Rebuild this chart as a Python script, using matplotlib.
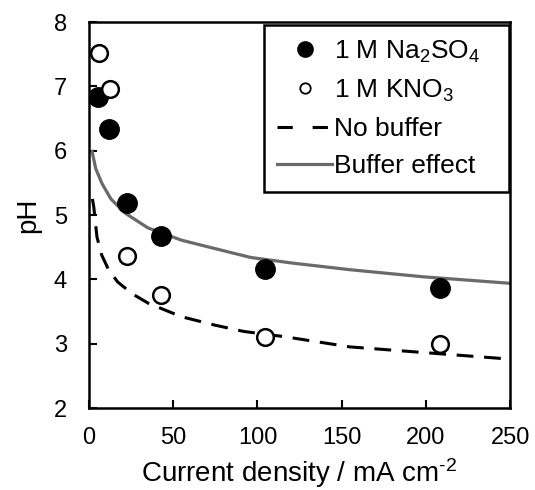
import matplotlib
matplotlib.use("Agg")
import matplotlib.pyplot as plt
from matplotlib.lines import Line2D

plt.rcParams['font.family'] = ['Liberation Sans', 'DejaVu Sans']
plt.rcParams['mathtext.fontset'] = 'custom'
plt.rcParams['mathtext.rm'] = 'Liberation Sans'
plt.rcParams['mathtext.it'] = 'Liberation Sans:italic'
plt.rcParams['mathtext.default'] = 'regular'

# Data
na2so4_x = [5.3, 12.0, 22.4, 43.0, 104.5, 208.5]
na2so4_y = [6.83, 6.34, 5.18, 4.67, 4.16, 3.87]
kno3_x = [5.7, 12.6, 22.4, 43.0, 104.5, 208.5]
kno3_y = [7.52, 6.96, 4.37, 3.75, 3.11, 3.00]
nobuf_x = [2.0, 2.8, 4.7, 7.5, 11.6, 17.0, 25.4, 35.1, 54.8, 74.5, 92.0, 115.8, 155.0, 190.0, 220.0, 250.0]
nobuf_y = [5.25, 5.13, 4.66, 4.38, 4.15, 3.96, 3.78, 3.63, 3.42, 3.29, 3.19, 3.11, 2.95, 2.88, 2.82, 2.76]
buf_x = [1.8, 4.0, 7.7, 13.0, 21.4, 35.0, 54.8, 74.5, 96.1, 121.7, 155.0, 198.3, 249.4]
buf_y = [5.99, 5.72, 5.49, 5.25, 5.03, 4.80, 4.61, 4.48, 4.34, 4.25, 4.15, 4.04, 3.94]
x_ticks = [0, 50, 100, 150, 200, 250]
y_ticks = [2, 3, 4, 5, 6, 7, 8]

GRAY = '#6a6a6a'
DASH = (0, (5.5, 3.5))

fig = plt.figure(figsize=(5.35, 4.9), dpi=100)
ax = fig.add_axes([0.1664, 0.1673, 0.787, 0.7877])

ax.plot(buf_x, buf_y, color=GRAY, lw=2.3, zorder=2)
ax.plot(nobuf_x, nobuf_y, color='black', lw=2.2, ls=DASH, zorder=2)
ax.plot(na2so4_x, na2so4_y, 'o', color='black', ms=14, zorder=3)
ax.plot(kno3_x, kno3_y, 'o', mfc='white', mec='black', mew=1.8, ms=12, zorder=3)

ax.set_xlim(0, 250)
ax.set_ylim(2, 8)
ax.set_xticks(x_ticks)
ax.set_yticks(y_ticks)
ax.tick_params(direction='in', length=6, width=1.5, labelsize=17)
ax.tick_params(axis='x', pad=14)
ax.tick_params(axis='y', pad=16)
for s in ax.spines.values():
    s.set_linewidth(1.8)
ax.set_xlabel('Current density / mA cm$^{\\text{-2}}$', fontsize=20, labelpad=5)
ax.set_ylabel('pH', fontsize=20, labelpad=9)

handles = [
    Line2D([], [], marker='o', ls='none', color='black', ms=11),
    Line2D([], [], marker='o', ls='none', mfc='white', mec='black', mew=1.3, ms=7.5),
    Line2D([], [], color='black', lw=2.2, ls=(0, (5, 6.5))),
    Line2D([], [], color=GRAY, lw=2.3),
]
labels = ['1 M Na$_2$SO$_4$', '1 M KNO$_3$', 'No buffer', 'Buffer effect']
leg = ax.legend(handles, labels, loc='upper left', bbox_to_anchor=(0.415, 0.0, 0.583, 0.992),
                mode='expand', fontsize=19, frameon=True, fancybox=False, edgecolor='black',
                framealpha=1.0, handlelength=2.1, handletextpad=0.08, borderpad=0.5,
                labelspacing=0.5, borderaxespad=0.0)
leg.get_frame().set_linewidth(1.8)

fig.savefig('out.png', dpi=100)
